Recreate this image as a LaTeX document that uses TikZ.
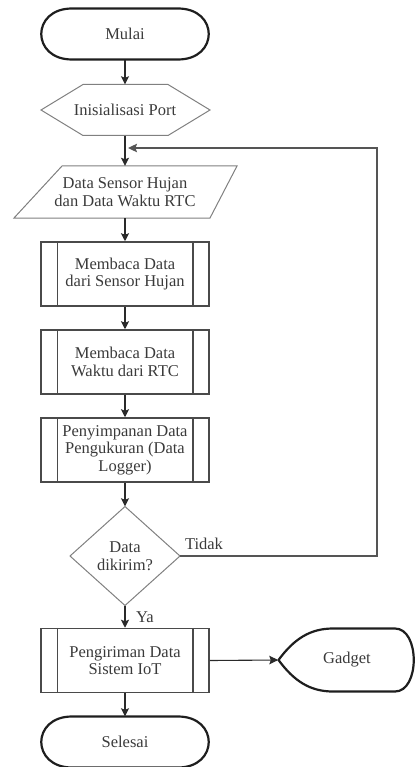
\documentclass[tikz,border=0pt]{standalone}
\usepackage{fontspec}
\setmainfont{Liberation Serif}
\usetikzlibrary{arrows.meta}
\definecolor{txtc}{HTML}{3A3A3A}
\definecolor{thick}{HTML}{1E1E1E}
\definecolor{boxc}{HTML}{4A4A4A}
\definecolor{thin}{HTML}{808080}
\definecolor{conn}{HTML}{2A2A2A}
\definecolor{loopc}{HTML}{555555}
\begin{document}
\begin{tikzpicture}[x=1pt,y=-1pt,
  txt/.style={font=\fontsize{16.5}{17.6}\selectfont, text=txtc, align=center, inner sep=0pt},
  anchorbox/.style={txt, rectangle, minimum width=#1},
  procbox/.style={txt, rectangle, draw=boxc, line width=1.5pt, minimum width=168pt, minimum height=64pt},
  thinline/.style={draw=thin, line width=1pt},
  thickline/.style={draw=thick, line width=2.2pt, line join=round},
  arr/.style={draw=conn, line width=1.5pt, -{Stealth[length=8pt,width=8pt,inset=1.5pt]}},
  arrthin/.style={draw=conn, line width=1.1pt, -{Stealth[length=9pt,width=8.5pt,inset=1.5pt]}},
  arrloop/.style={draw=loopc, line width=1.3pt, -{Stealth[length=9pt,width=8.5pt,inset=1.5pt]}},
  lbl/.style={txt}
]
\useasboundingbox (0,0) rectangle (415,767);

% Terminators
\node[anchorbox=169pt, minimum height=51pt] (mulai) at (125,34) {Mulai};
\node[anchorbox=169pt, minimum height=51pt] (selesai) at (125,742) {Selesai};
\foreach \c in {34,742}{
  \draw[thickline] (72,\c-25.5) -- (178,\c-25.5)
    .. controls (219,\c-25.5) and (219,\c+25.5) .. (178,\c+25.5) -- (72,\c+25.5)
    .. controls (31,\c+25.5) and (31,\c-25.5) .. (72,\c-25.5) -- cycle;
}

% Init hexagon
\node[anchorbox=169pt, minimum height=51pt] (init) at (125,110) {Inisialisasi Port};
\draw[thinline] (41,110) -- (83,84.5) -- (168,84.5) -- (210,110) -- (168,135.5) -- (83,135.5) -- cycle;

% Data parallelogram
\node[anchorbox=223pt, minimum height=52pt] (data) at (125,192) {Data Sensor Hujan\\dan Data Waktu RTC};
\draw[thinline] (62,166) -- (237,166) -- (210,218) -- (14,218) -- cycle;

% Process boxes
\node[procbox] (p1) at (125,274) {Membaca Data\\dari Sensor Hujan};
\node[procbox] (p2) at (125,362) {Membaca Data\\Waktu dari RTC};
\node[procbox] (p3) at (125,450) {Penyimpanan Data\\Pengukuran (Data\\Logger)};
\node[procbox] (p4) at (125,660.5) {Pengiriman Data\\Sistem IoT};
\foreach \p in {p1,p2,p3,p4}{
  \draw[draw=boxc, line width=1.5pt] ([xshift=17pt]\p.north west) -- ([xshift=17pt]\p.south west);
  \draw[draw=boxc, line width=1.5pt] ([xshift=-17pt]\p.north east) -- ([xshift=-17pt]\p.south east);
}

% Decision
\node[anchorbox=110pt, minimum height=99pt] (dec) at (125,556) {Data\\dikirim?};
\draw[thinline] (125,506.5) -- (180,556) -- (125,605.5) -- (70,556) -- cycle;

% Gadget display
\node[anchorbox=137pt, minimum height=64pt] (gadget) at (347,660) {Gadget};
\draw[thickline] (278.5,660) .. controls (294,639) and (310,628.5) .. (333,628.5) -- (395,628.5)
  .. controls (420,628.5) and (420,691.5) .. (395,691.5) -- (333,691.5)
  .. controls (310,691.5) and (294,681) .. (278.5,660) -- cycle;

% Connectors
\draw[arr] (mulai.south) -- (init.north);
\draw[arr] (init.south) -- (data.north);
\draw[arr] (data.south) -- (p1.north);
\draw[arr] (p1.south) -- (p2.north);
\draw[arr] (p2.south) -- (p3.north);
\draw[arr] (p3.south) -- (dec.north);
\draw[arr] (dec.south) -- (p4.north);
\draw[arrthin] (p4.east) -- (gadget.west);
\draw[arr] (p4.south) -- (selesai.north);

\coordinate (c1) at (377,556);
\coordinate (c2) at (377,148);
\coordinate (loopend) at (128,148);
\draw[arrloop] (dec.east) -- (c1) -- (c2) -- (loopend);

\node[lbl] (tidak) at (204,544) {Tidak};
\node[lbl] (ya) at (145,617) {Ya};
\end{tikzpicture}
\end{document}
